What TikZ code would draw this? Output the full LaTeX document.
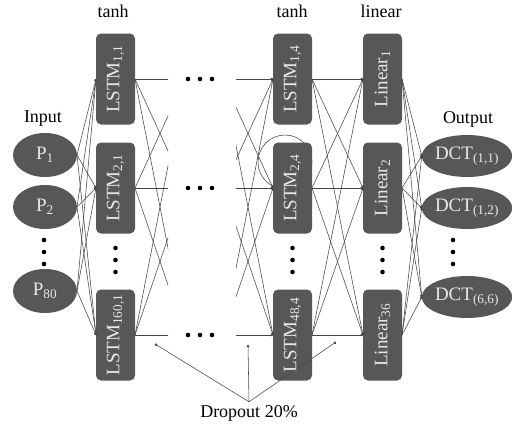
\documentclass[tikz,border=0pt]{standalone}
\usepackage{fontspec}
\setmainfont{Liberation Serif}
\usetikzlibrary{arrows.meta, shapes.geometric, backgrounds}
\definecolor{cellgray}{HTML}{575757}
\definecolor{celltext}{HTML}{E8E8E8}
\definecolor{wiregray}{HTML}{454545}

\begin{document}
\begin{tikzpicture}[
        x=1pt, y=-1pt,
        font=\fontsize{19}{21}\selectfont,
        every node/.style={align=center, outer sep=0pt},
        cell/.style={rectangle, rounded corners=5pt, fill=cellgray, text=celltext,
                     minimum width=39pt, minimum height=91pt, inner sep=0pt},
        unit/.style={ellipse, fill=cellgray, text=celltext, inner sep=0pt,
                     minimum width=64pt, minimum height=44pt},
        outunit/.style={unit, minimum width=90pt, minimum height=42pt},
        hdr/.style={font=\fontsize{18}{20}\selectfont},
        wire/.style={draw=wiregray, line width=0.55pt, -{Circle[length=2.6pt]}},
        stub/.style={draw=wiregray, line width=0.55pt}
    ]
        \useasboundingbox (0,0) rectangle (512,429);

        % --- Encabezados ---
        \node[hdr] (tanhA) at (113,11) {tanh};
        \node[hdr] (tanhD) at (292,11) {tanh};
        \node[hdr] (linhdr) at (381,11) {linear};
        \node[hdr] (inhdr) at (43,119) {Input};
        \node[hdr] (outhdr) at (468,119) {Output};

        % --- Entradas ---
        \node[unit] (in1) at (45,155) {P\textsubscript{1}};
        \node[unit] (in2) at (45,207) {P\textsubscript{2}};
        \node[unit] (in3) at (45,291) {P\textsubscript{80}};

        % --- Primera capa LSTM ---
        \node[cell] (lsA1) at (115.5,79) {\rotatebox{90}{LSTM\textsubscript{1,1}}};
        \node[cell] (lsA2) at (115.5,188) {\rotatebox{90}{LSTM\textsubscript{2,1}}};
        \node[cell] (lsA3) at (115.5,335) {\rotatebox{90}{LSTM\textsubscript{160,1}}};

        % --- Cuarta capa LSTM ---
        \node[cell] (lsD1) at (292.5,79) {\rotatebox{90}{LSTM\textsubscript{1,4}}};
        \node[cell] (lsD2) at (292.5,188) {\rotatebox{90}{LSTM\textsubscript{2,4}}};
        \node[cell] (lsD3) at (292.5,335) {\rotatebox{90}{LSTM\textsubscript{48,4}}};

        % --- Capa lineal ---
        \node[cell] (lin1) at (382.5,79) {\rotatebox{90}{Linear\textsubscript{1}}};
        \node[cell] (lin2) at (382.5,188) {\rotatebox{90}{Linear\textsubscript{2}}};
        \node[cell] (lin3) at (382.5,335) {\rotatebox{90}{Linear\textsubscript{36}}};

        % --- Salidas ---
        \node[outunit] (out1) at (467,156) {DCT\textsubscript{(1,1)}};
        \node[outunit] (out2) at (467,208) {DCT\textsubscript{(1,2)}};
        \node[outunit] (out3) at (467,297) {DCT\textsubscript{(6,6)}};

        % --- Lazo recurrente ---
        \begin{scope}[on background layer]
            \draw[stub] ([xshift=-7.5pt, yshift=26pt]lsD2.center) circle (27pt);
        \end{scope}

        % --- Conexiones ---
        \foreach \i in {1,2,3} \foreach \j in {1,2,3} {
            \draw[wire] (in\i.east) -- (lsA\j.west);
            \draw[wire] (lsD\i.east) -- (lin\j.west);
            \draw[wire] (lin\i.east) -- (out\j.west);
        }

        % --- Tramos cortados hacia las capas ocultas ---
        \coordinate (vA1) at (185,79);
        \coordinate (vA2) at (185,188);
        \coordinate (vA3) at (185,335);
        \coordinate (vD1) at (223,79);
        \coordinate (vD2) at (223,188);
        \coordinate (vD3) at (223,335);
        \begin{scope}
            \clip (135,0) rectangle (168,429);
            \foreach \i in {1,2,3} \foreach \j in {1,2,3}
                \draw[stub] (lsA\i.east) -- (vA\j);
        \end{scope}
        \begin{scope}
            \clip (236,0) rectangle (280,429);
            \foreach \i in {1,2,3} \foreach \j in {1,2,3}
                \draw[wire] (vD\j) -- (lsD\i.west);
        \end{scope}

        % --- Puntos suspensivos ---
        \foreach \y in {79,188,335}
            \foreach \x in {188,200,212}
                \fill (\x,\y) circle (2.3pt);
        \foreach \x in {115.5,292.5,382.5}
            \foreach \y in {248,260,272}
                \fill (\x,\y) circle (2.3pt);
        \foreach \x in {44,453}
            \foreach \y in {240,252,264}
                \fill (\x,\y) circle (2.3pt);

        % --- Dropout ---
        \node[hdr] (drop) at (249,413) {Dropout 20\%};
        \coordinate (dpA) at (155,344);
        \coordinate (dpB) at (248,345);
        \coordinate (dpC) at (336,342);
        \draw[wire] (drop.north) -- (dpA);
        \draw[wire] (drop.north) -- (dpB);
        \draw[wire] (drop.north) -- (dpC);
    \end{tikzpicture}
\end{document}
